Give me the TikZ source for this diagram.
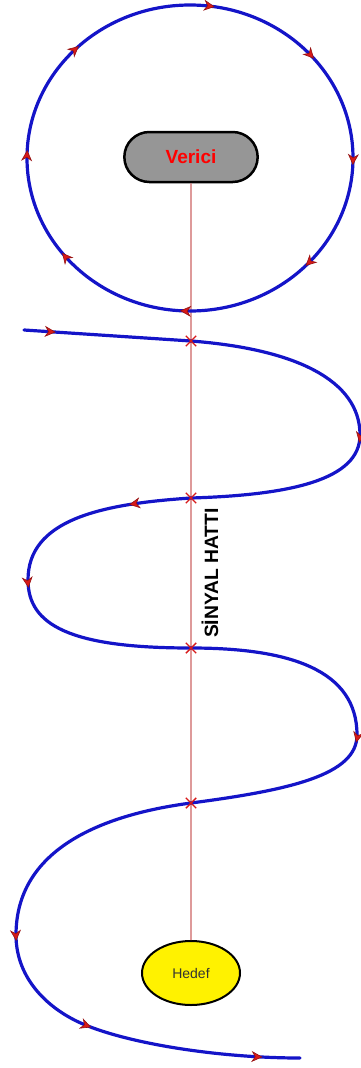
\documentclass[tikz,border=0pt]{standalone}
\usepackage{fontspec}
\setmainfont{Liberation Sans}
\usetikzlibrary{arrows.meta,decorations.markings,shapes.geometric,shapes.misc}
\definecolor{wavblue}{RGB}{20,20,200}
\definecolor{tipred}{RGB}{215,25,25}
\definecolor{sigred}{RGB}{205,100,100}
\definecolor{boxgray}{RGB}{150,150,150}
\tikzset{wavtip/.tip={Stealth[length=11pt,width=11pt,inset=3.5pt,line width=0.6pt,color=tipred!70!black,fill=tipred]}}
\begin{document}
\begin{tikzpicture}[x=1pt,y=-1pt,
    wave/.style={draw=wavblue,line width=3.2pt,line cap=round},
    tipat/.style={postaction={decorate,decoration={markings,
        mark=at position #1 with {\arrow{wavtip}}}}},
    signal/.style={draw=sigred,line width=1.2pt},
    crossmark/.style={cross out,draw=tipred,line width=1.4pt,minimum size=9pt,inner sep=0pt}]
    \useasboundingbox (0,0) rectangle (361,1068);

    \node[rounded rectangle,draw,line width=2.5pt,fill=boxgray,minimum width=140pt,minimum height=50pt,
        text=red,font=\bfseries\fontsize{19}{19}\selectfont] (verici) at (191,157) {Verici};
    \node[ellipse,draw,line width=2pt,fill=yellow,minimum width=98pt,minimum height=64pt,
        text=black!80,font=\fontsize{14}{14}\selectfont] (hedef) at (191,973) {Hedef};
    \draw[signal] (verici) -- (hedef);

    % yayin cemberi
    \draw[wave,postaction={decorate},decoration={markings,
        mark=at position 0.025 with {\arrow{wavtip}},
        mark=at position 0.14 with {\arrow{wavtip}},
        mark=at position 0.257 with {\arrow{wavtip}},
        mark=at position 0.372 with {\arrow{wavtip}},
        mark=at position 0.51 with {\arrow{wavtip}},
        mark=at position 0.646 with {\arrow{wavtip}},
        mark=at position 0.758 with {\arrow{wavtip}},
        mark=at position 0.878 with {\arrow{wavtip}}}]
        (190,5) .. controls (280,5) and (353,73.5) .. (353,158)
        .. controls (353,242.5) and (280,311) .. (190,311)
        .. controls (100,311) and (27,242.5) .. (27,158)
        .. controls (27,73.5) and (100,5) .. (190,5);

    \coordinate (w0) at (24,330);
    \coordinate (k1) at (191,341);
    \coordinate (r1) at (360,435);
    \coordinate (k2) at (191,498);
    \coordinate (l1) at (28,580);
    \coordinate (k3) at (191,648);
    \coordinate (r2) at (357,735);
    \coordinate (k4) at (191,803);
    \coordinate (l2) at (16,935);
    \coordinate (w1) at (83,1024);
    \coordinate (w2) at (300,1058);

    % dalga
    \draw[wave,tipat=0.19] (w0) .. controls (80,333.7) and (135,337.3) .. (k1);
    \draw[wave] (k1) .. controls (295,349) and (360,380) .. (r1);
    \draw[wave,tipat=0.04] (r1) .. controls (360,480) and (290,495) .. (k2);
    \draw[wave,tipat=0.31] (k2) .. controls (100,504) and (28,520) .. (l1);
    \draw[wave,tipat=0.04] (l1) .. controls (28,625) and (70,648) .. (k3);
    \draw[wave] (k3) .. controls (290,648) and (357,670) .. (r2);
    \draw[wave,tipat=0.04] (r2) .. controls (357,775) and (290,790) .. (k4);
    \draw[wave] (k4) .. controls (100,815) and (16,850) .. (l2);
    \draw[wave,tipat=0.05] (l2) .. controls (16,980) and (50,1010) .. (w1);
    \draw[wave,tipat=0.04,tipat=0.83] (w1) .. controls (130,1044) and (220,1058) .. (w2);

    \foreach \k in {k1,k2,k3,k4}
        \node[crossmark] (x\k) at (\k) {};

    \node[rotate=90,font=\bfseries\fontsize{19.3}{20}\selectfont] (hatt) at (210,573) {SİNYAL HATTI};
\end{tikzpicture}
\end{document}
